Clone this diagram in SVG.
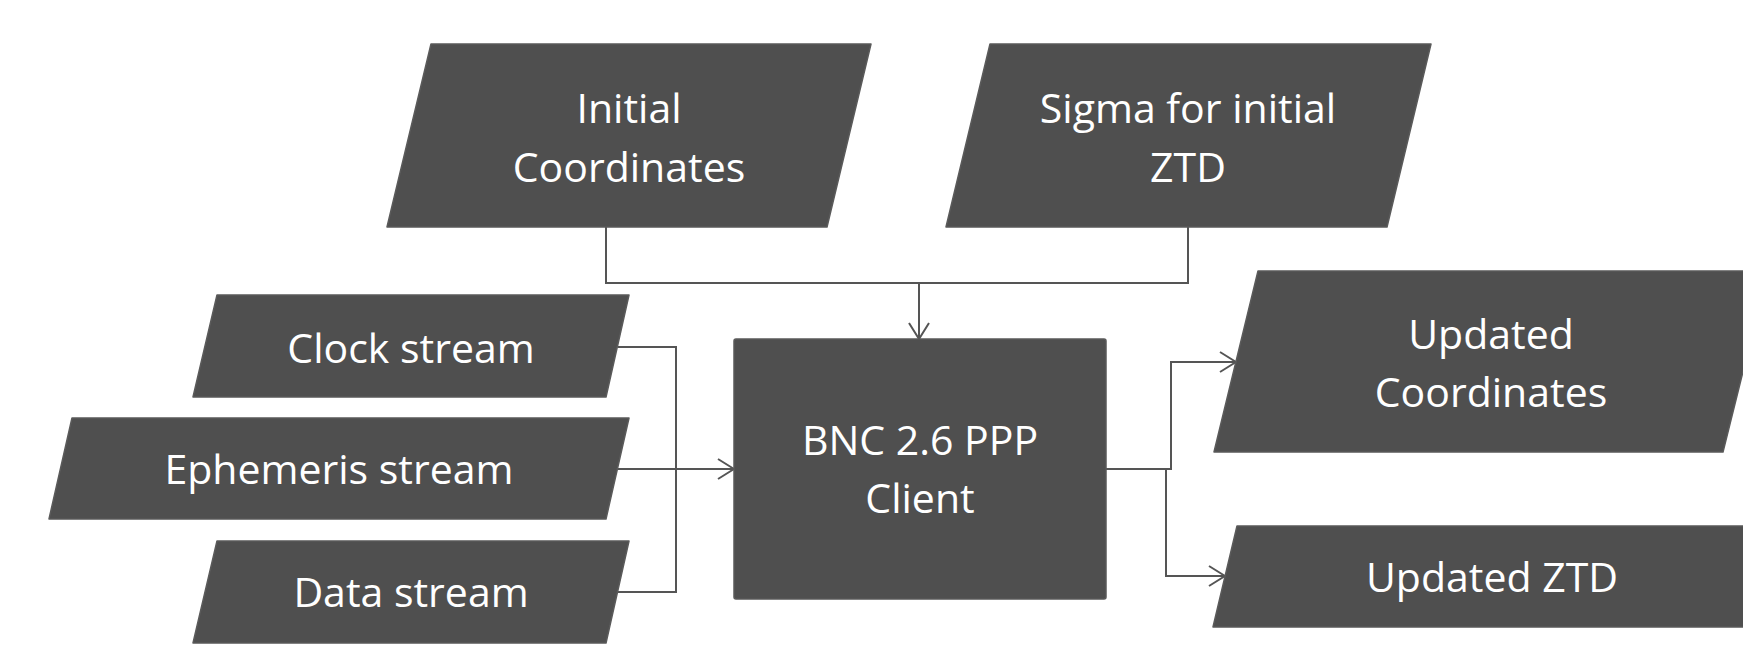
<svg xmlns="http://www.w3.org/2000/svg" width="1743" height="659" viewBox="0 0 1743 659">
<defs>
<style>
.shape{fill:#4f4f4f;stroke:#5a5a5a;stroke-width:1.5;stroke-linejoin:round}
.lbl{fill:#ffffff;font-family:"Open Sans","Noto Sans","Liberation Sans",sans-serif;font-size:41px;text-anchor:middle}
.conn{fill:none;stroke:#555555;stroke-width:2}
</style>
<marker id="arr" viewBox="0 0 18 22" refX="17" refY="11" markerWidth="18" markerHeight="22" markerUnits="userSpaceOnUse" orient="auto">
<path d="M1,1 L17,11 L1,21" fill="none" stroke="#555555" stroke-width="2"/>
</marker>
</defs>
<rect width="1743" height="659" fill="#ffffff"/>
<g id="connectors">
<path class="conn" d="M606,227 V283 H919 V339" marker-end="url(#arr)"/>
<path class="conn" d="M1188,227 V283 H919"/>
<path class="conn" d="M618,347 H676 V469 H734" marker-end="url(#arr)"/>
<path class="conn" d="M618,469 H734"/>
<path class="conn" d="M618,592 H676 V469"/>
<path class="conn" d="M1106,469 H1171 V362 H1236" marker-end="url(#arr)"/>
<path class="conn" d="M1106,469 H1166 V576 H1225" marker-end="url(#arr)"/>
</g>
<g id="initial-coordinates">
<polygon class="shape" points="431,44 871,44 827,227 387,227"/>
<text class="lbl" x="629" y="123">Initial</text>
<text class="lbl" x="629" y="182">Coordinates</text>
</g>
<g id="sigma-ztd">
<polygon class="shape" points="990,44 1431,44 1387,227 946,227"/>
<text class="lbl" x="1188" y="123">Sigma for initial</text>
<text class="lbl" x="1188" y="182">ZTD</text>
</g>
<g id="clock-stream">
<polygon class="shape" points="217,295 629,295 606,397 193,397"/>
<text class="lbl" x="411" y="363">Clock stream</text>
</g>
<g id="ephemeris-stream">
<polygon class="shape" points="72,418 629,418 606,519 49,519"/>
<text class="lbl" x="339" y="484">Ephemeris stream</text>
</g>
<g id="data-stream">
<polygon class="shape" points="217,541 629,541 606,643 193,643"/>
<text class="lbl" x="411" y="607">Data stream</text>
</g>
<g id="bnc-client">
<rect class="shape" x="734" y="339" width="372" height="260" rx="2"/>
<text class="lbl" x="920" y="455">BNC 2.6 PPP</text>
<text class="lbl" x="920" y="513">Client</text>
</g>
<g id="updated-coordinates">
<polygon class="shape" points="1258,271 1768,271 1723,452 1214,452"/>
<text class="lbl" x="1491" y="349">Updated</text>
<text class="lbl" x="1491" y="407">Coordinates</text>
</g>
<g id="updated-ztd">
<polygon class="shape" points="1237,526 1771,526 1747,627 1213,627"/>
<text class="lbl" x="1492" y="592">Updated ZTD</text>
</g>
</svg>
